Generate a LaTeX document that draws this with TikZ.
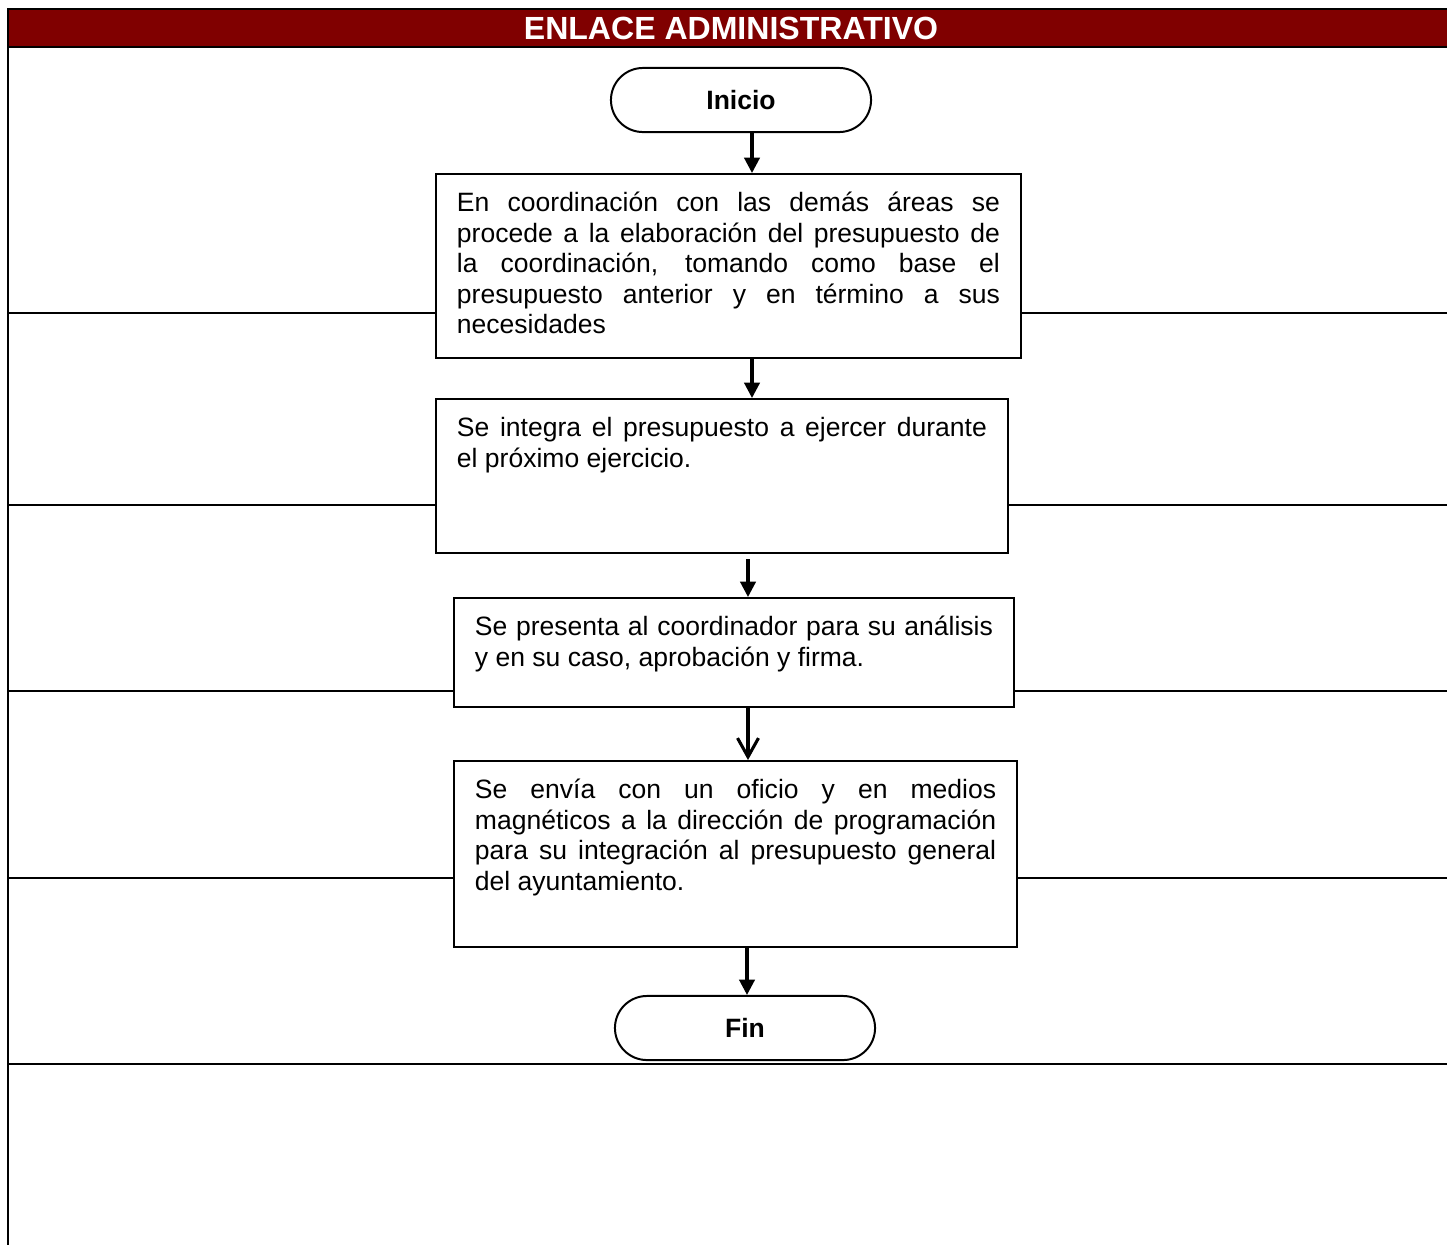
\documentclass[tikz,border=0pt]{standalone}
\usepackage{fontspec}
\setmainfont{Liberation Sans}
\usepackage{xcolor}
\usetikzlibrary{arrows.meta}
\definecolor{guinda}{HTML}{800000}

\begin{document}
\begin{tikzpicture}[x=0.4525pt, y=-0.4525pt, line width=0.9pt,
    every node/.style = {font=\fontsize{12pt}{13.8pt}\selectfont},
    paso/.style = {shape=rectangle, draw, fill=white, anchor=north west,
      align=justify, inner xsep=9.5pt, inner ysep=0pt, text height=17pt},
    terminal/.style = {shape=rectangle, rounded corners=14.5pt, draw, fill=white,
      minimum width=117.7pt, minimum height=29pt,
      font=\fontsize{12pt}{13.8pt}\selectfont\bfseries},
    flecha/.style = {line width=1.4pt, -{Triangle[width=7pt,length=7pt]}},
    flechaabierta/.style = {line width=1.4pt, -{Straight Barb[width=9.5pt,length=8.5pt]}}]
  \useasboundingbox (0,0) rectangle (1447,1244);
  \draw[fill=guinda] (8,9) rectangle (1450,47);
  \node[text=white, font=\fontsize{14.5pt}{16pt}\selectfont\bfseries] (titulo) at (731,28) {ENLACE ADMINISTRATIVO};
  \draw (8,9) -- (8,1246);
  \foreach \y in {313,505,691,878,1064}
    \draw (8,\y) -- (1450,\y);

  \node[terminal] (inicio) at (741,100) {Inicio};
  \node[paso, text width=245.7pt, text depth=66.3pt] (b1) at (435,173)
    {En coordinación con las demás áreas se\linebreak
     procede a la elaboración del presupuesto de\linebreak
     la coordinación, tomando como base el\linebreak
     presupuesto anterior y en término a sus\linebreak
     necesidades};
  \node[paso, text width=239.8pt, text depth=52.7pt] (b2) at (435,398)
    {Se integra el presupuesto a ejercer durante\linebreak
     el próximo ejercicio.};
  \node[paso, text width=234.4pt, text depth=32.3pt] (b3) at (453,597)
    {Se presenta al coordinador para su análisis\linebreak
     y en su caso, aprobación y firma.};
  \node[paso, text width=235.8pt, text depth=67.2pt] (b4) at (453,760)
    {Se envía con un oficio y en medios\linebreak
     magnéticos a la dirección de programación\linebreak
     para su integración al presupuesto general\linebreak
     del ayuntamiento.};
  \node[terminal] (fin) at (745,1028) {Fin};

  \coordinate (eje1) at (752,0);
  \coordinate (eje2) at (748,0);
  \coordinate (eje3) at (747,0);
  \draw[flecha] (inicio.south -| eje1) -- (b1.north -| eje1);
  \draw[flecha] (b1.south -| eje1) -- (b2.north -| eje1);
  \draw[flecha, shorten <=2.3pt] (b2.south -| eje2) -- (b3.north -| eje2);
  \draw[flechaabierta] (b3.south -| eje2) -- (b4.north -| eje2);
  \draw[flecha] (b4.south -| eje3) -- (fin.north -| eje3);
\end{tikzpicture}
\end{document}
